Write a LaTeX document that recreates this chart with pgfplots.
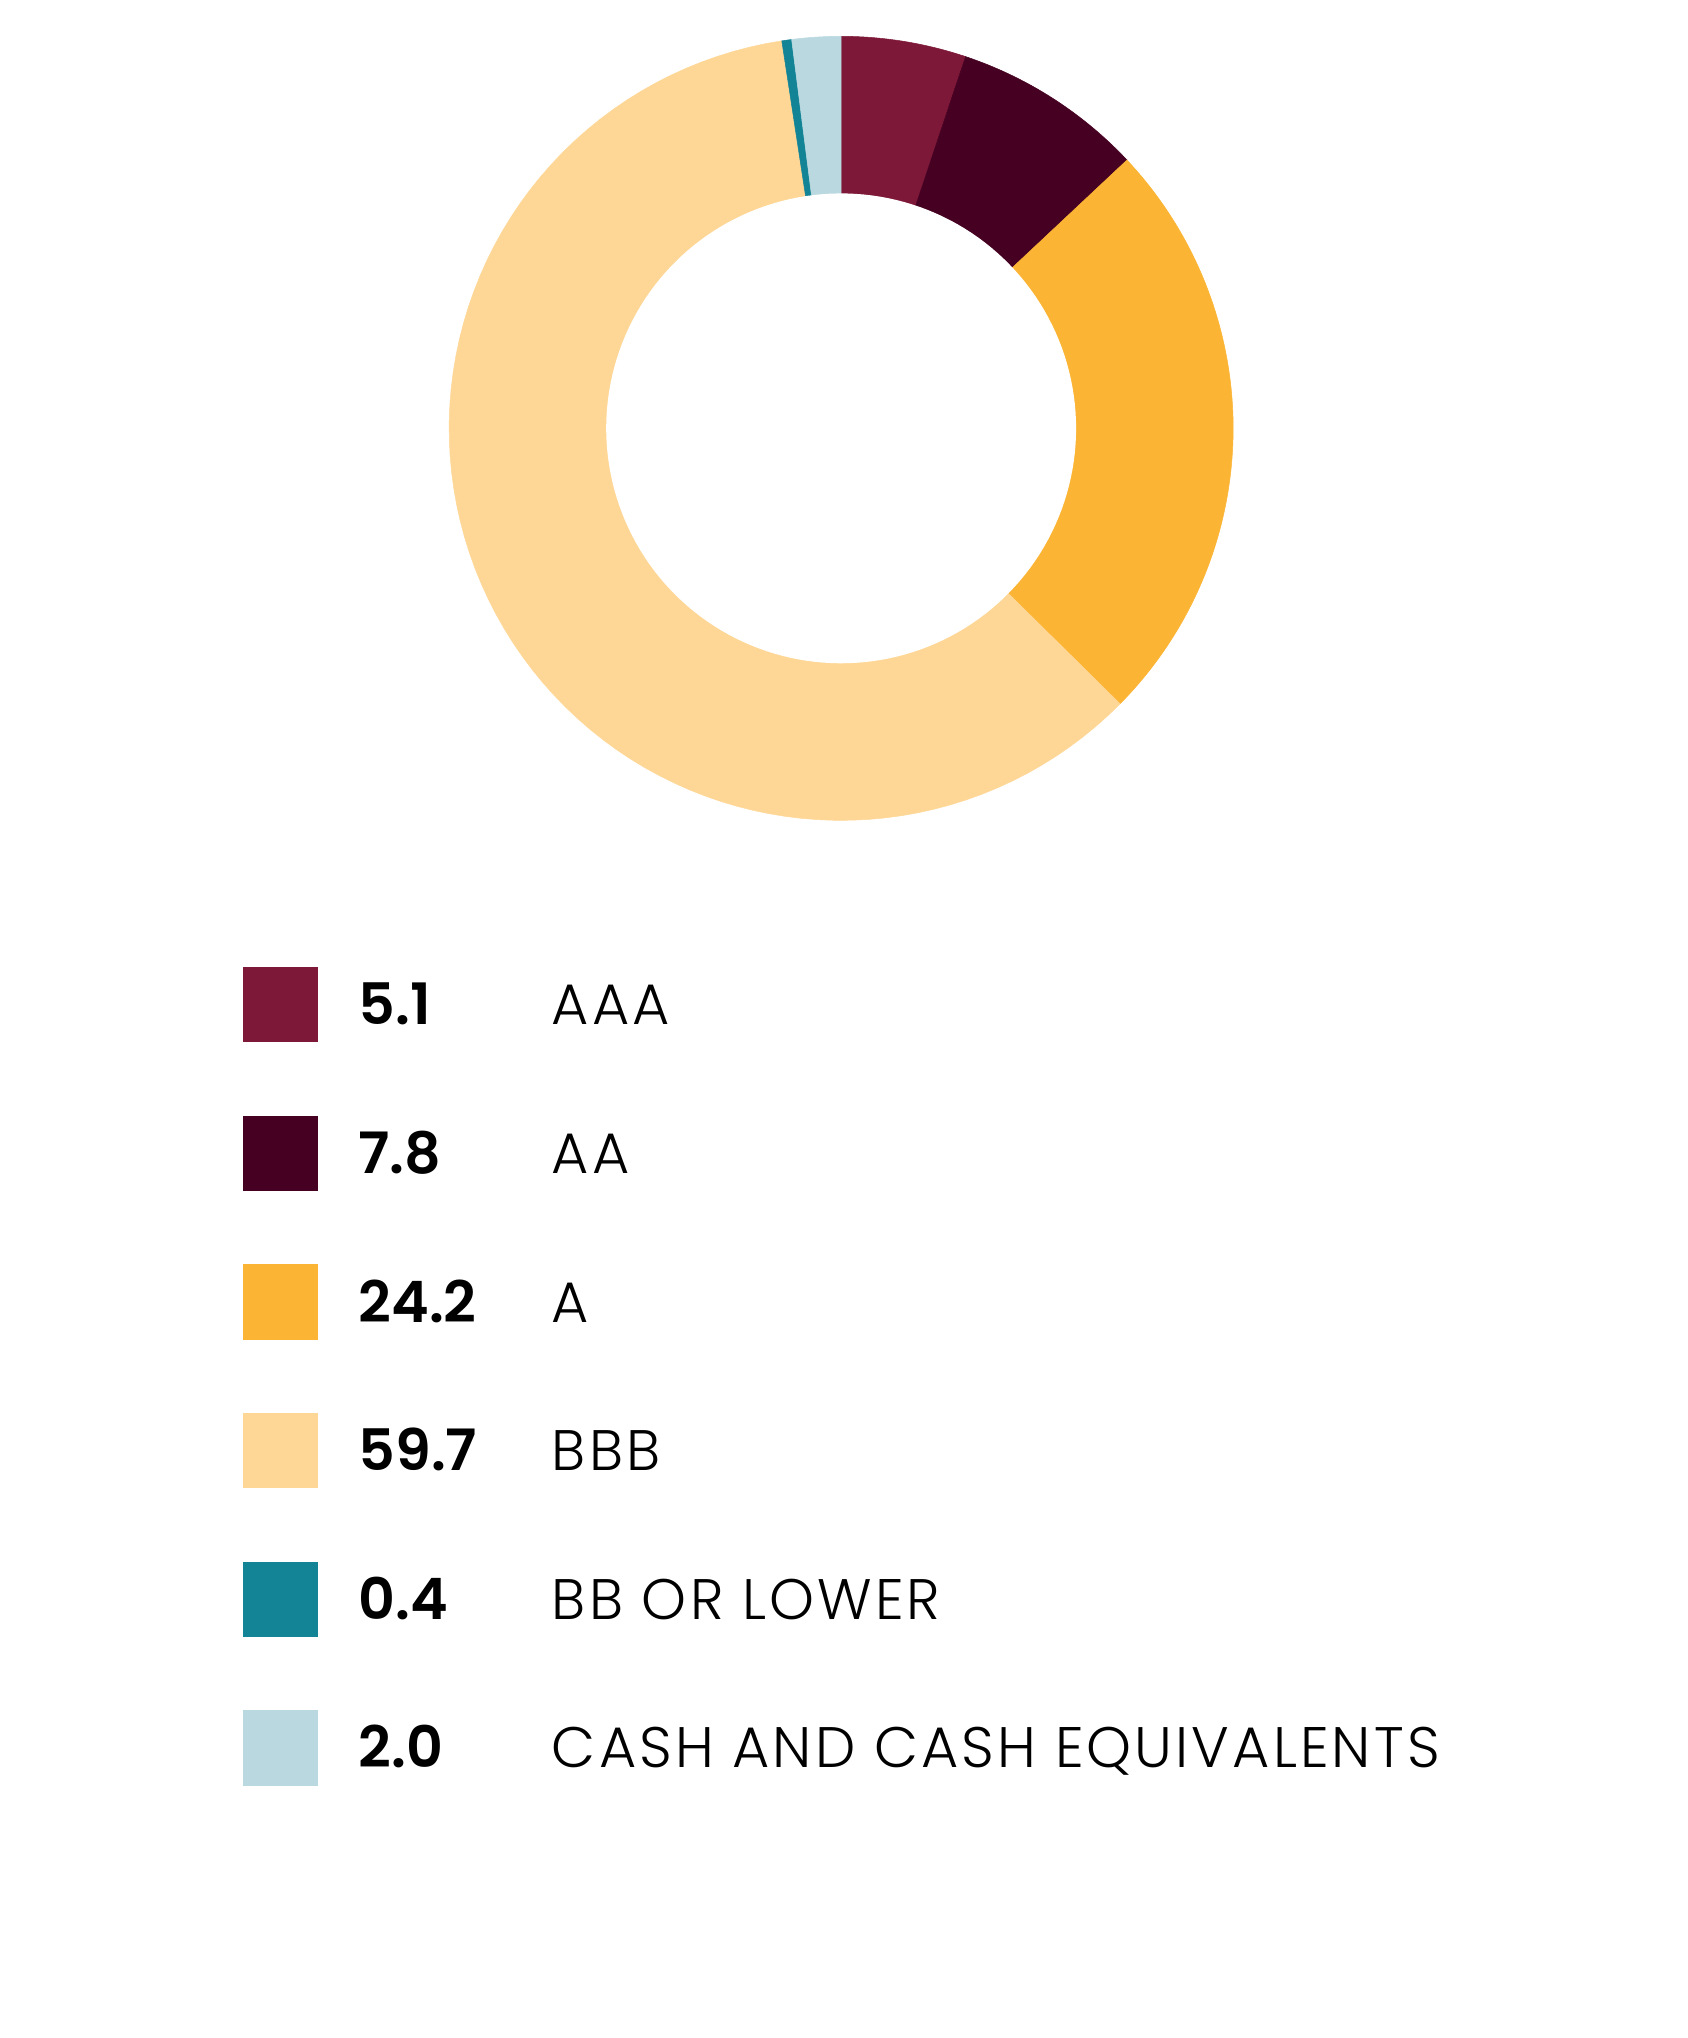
\documentclass[border=0pt]{standalone}
\usepackage{pgfplots}
\pgfplotsset{compat=1.18}
\usepackage{pgfplotstable}
\usepackage{fontspec}
\setmainfont{Poppins}
\newfontfamily\labfont[LetterSpace=5.4]{Poppins Light}
\newfontfamily\valfont{Poppins SemiBold}
\definecolor{cAAA}{HTML}{7E1838}
\definecolor{cAA}{HTML}{460021}
\definecolor{cA}{HTML}{FBB434}
\definecolor{cBBB}{HTML}{FED797}
\definecolor{cBB}{HTML}{138496}
\definecolor{cCash}{HTML}{B9D8DF}

\pgfplotstableread[col sep=comma]{
value,label,color
5.1,AAA,cAAA
7.8,AA,cAA
24.2,A,cA
59.7,BBB,cBBB
0.4,BB OR LOWER,cBB
2.0,CASH AND CASH EQUIVALENTS,cCash
}\ratings

\begin{document}
\begin{tikzpicture}
\begin{axis}[
  width=1300bp, height=1570bp, scale only axis,
  xmin=0, xmax=1300, ymin=0, ymax=1570,
  hide axis, clip=false,
]
% total
\def\total{0}
\pgfplotsforeachungrouped \i in {0,...,5}{%
  \pgfplotstablegetelem{\i}{value}\of\ratings
  \pgfmathsetmacro\total{\total+\pgfplotsretval}%
}
\def\cum{0}
\pgfplotsforeachungrouped \i in {0,...,5}{%
  \pgfplotstablegetelem{\i}{value}\of\ratings \let\v\pgfplotsretval
  \pgfplotstablegetelem{\i}{color}\of\ratings \let\c\pgfplotsretval
  \pgfplotstablegetelem{\i}{label}\of\ratings \let\lab\pgfplotsretval
  \pgfmathsetmacro\astart{90-\cum/\total*360}%
  \pgfmathsetmacro\cum{\cum+\v}%
  \pgfmathsetmacro\aend{90-\cum/\total*360}%
  \edef\temp{\noexpand\addplot[fill=\c, draw=\c, line width=0.4bp, domain=\aend:\astart, samples=90]
     ({648+302*cos(x)},{1240+302*sin(x)}) -- (axis cs:648,1240) -- cycle;}%
  \temp
  % legend row
  \pgfmathsetmacro\Y{1570-(774+114.5*\i)}%
  \pgfmathsetmacro\Ya{\Y-29}\pgfmathsetmacro\Yb{\Y+29}\pgfmathsetmacro\Yt{\Y-15.5}%
  \edef\temp{\noexpand\addplot[fill=\c, draw=none] coordinates {(187,\Ya) (245,\Ya) (245,\Yb) (187,\Yb)} -- cycle;
    \noexpand\node[anchor=base west, inner sep=0pt, font=\noexpand\fontsize{44bp}{50bp}\noexpand\valfont] at (axis cs:276,\Yt) {\v};
    \noexpand\node[anchor=base west, inner sep=0pt, font=\noexpand\fontsize{44bp}{50bp}\noexpand\labfont] at (axis cs:425,\Yt) {\lab};}%
  \temp
}
\addplot[fill=white, draw=none, domain=0:360, samples=180] ({648+181*cos(x)},{1240+181*sin(x)}) -- cycle;
\end{axis}
\pgfresetboundingbox
\path (current axis.south west) rectangle (current axis.north east);
\end{tikzpicture}
\end{document}
